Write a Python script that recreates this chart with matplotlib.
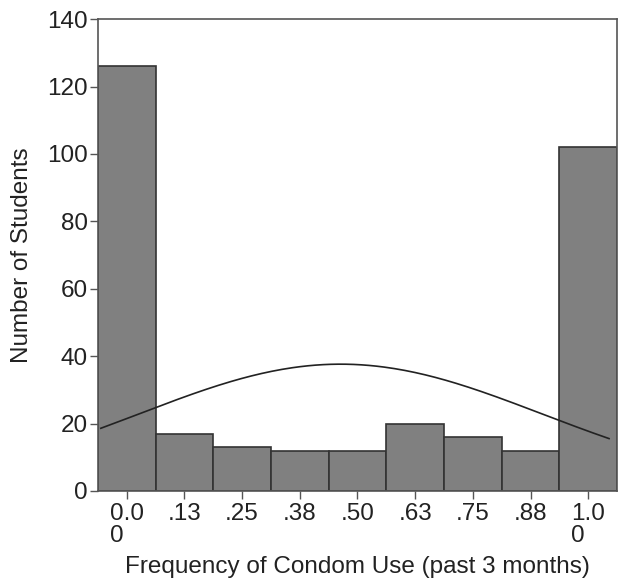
import matplotlib.pyplot as plt
import numpy as np

plt.rcParams['font.family'] = ['Liberation Sans', 'DejaVu Sans']

# bin centres (frequency of condom use) and counts
bin_centres = [0.0, 0.125, 0.25, 0.375, 0.5, 0.625, 0.75, 0.875, 1.0]
counts = [126, 17, 13, 12, 12, 20, 16, 12, 102]
tick_labels = ['0.0\n0', '.13', '.25', '.38', '.50', '.63', '.75', '.88', '1.0\n0']
y_ticks = [0, 20, 40, 60, 80, 100, 120, 140]

bin_width = 0.125

fig = plt.figure(figsize=(6.19, 5.81), dpi=100)
ax = fig.add_axes([0.158, 0.155, 0.839, 0.812])

ax.bar(bin_centres, counts, width=bin_width, color='#808080',
       edgecolor='#333333', linewidth=1.2, zorder=2)

# normal curve fitted to the histogram (mean and sd from the counts)
x_arr = np.array(bin_centres)
c_arr = np.array(counts)
n = c_arr.sum()
mean = (x_arr * c_arr).sum() / n
sd = np.sqrt(((x_arr - mean) ** 2 * c_arr).sum() / (n - 1))
xs = np.linspace(-0.056, 1.045, 200)
ys = n * bin_width / (sd * np.sqrt(2 * np.pi)) * np.exp(-0.5 * ((xs - mean) / sd) ** 2)
ax.plot(xs, ys, color='#222222', linewidth=1.2, zorder=3)

ax.set_xlim(-0.0625, 1.0625)
ax.set_ylim(0, 140)
ax.set_xticks(bin_centres)
ax.set_xticklabels(tick_labels)
for lab in ax.get_xticklabels():
    lab.set_multialignment('left')
    lab.set_linespacing(1.0)
ax.set_yticks(y_ticks)

for s in ax.spines.values():
    s.set_color('#555555')
    s.set_linewidth(1.2)

ax.tick_params(axis='both', labelsize=17.5, colors='#222222', length=6,
               width=1, pad=1, color='#555555')
ax.tick_params(axis='x', pad=3)

ax.set_xlabel('Frequency of Condom Use (past 3 months)', fontsize=17.5,
              color='#222222', labelpad=6)
ax.set_ylabel('Number of Students', fontsize=17.5, color='#222222', labelpad=10)

fig.savefig('out.png', dpi=100)
